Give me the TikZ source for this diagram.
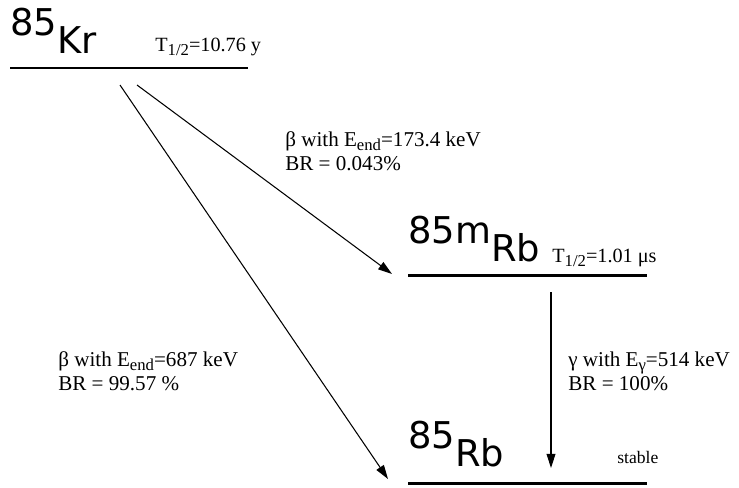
\documentclass[tikz,border=0pt]{standalone}
\usepackage{fontspec}
\setmainfont{Liberation Serif}
\setsansfont{DejaVu Sans}
\usetikzlibrary{arrows.meta}

% lowered subscript, larger than \textsubscript
\newcommand{\lowsub}[1]{\raisebox{-2.5pt}{\fontsize{9.5}{10}\selectfont #1}}

\tikzset{
  level/.style={line width=1.7pt},
  decay/.style={line width=0.6pt,-{Triangle[length=8pt,width=5pt]}},
  nuclide/.style={anchor=base west,inner sep=0pt,font=\sffamily\fontsize{21}{25}\selectfont},
  info/.style={anchor=base west,inner sep=0pt,font=\fontsize{12}{13.5}\selectfont,align=left},
  halflife/.style={anchor=base west,inner sep=0pt,font=\fontsize{11.5}{13}\selectfont}
}

\begin{document}
\begin{tikzpicture}[x=0.02cm,y=-0.02cm]
\useasboundingbox (0,0) rectangle (739,487);

% Energy levels
\coordinate (krL) at (10,68);  \coordinate (krR) at (248,68);
\coordinate (mrbL) at (408,275); \coordinate (mrbR) at (647,275);
\coordinate (rbL) at (408,483); \coordinate (rbR) at (647,483);
\draw[level] (krL) -- (krR);
\draw[level] (mrbL) -- (mrbR);
\draw[level] (rbL) -- (rbR);

% Nuclide names
\node[nuclide] (kr) at (10,53) {\raisebox{10pt}{85}Kr};
\node[nuclide] (mrb) at (408,261) {\raisebox{10pt}{85m}Rb};
\node[nuclide] (rb) at (408,466) {\raisebox{10pt}{85}Rb};

% Half lives
\node[halflife] (krT) at (155,51) {T\lowsub{1/2}=10.76 y};
\node[halflife] (mrbT) at (552,262) {T\lowsub{1/2}=1.01 μs};
\node[halflife,font=\fontsize{10}{12}\selectfont] (rbT) at (617,463) {stable};

% Decay arrows
\coordinate (b1s) at (137,85);  \coordinate (b1e) at (392,274);
\coordinate (b2s) at (120,85);  \coordinate (b2e) at (388,479);
\coordinate (gs) at (551,292);  \coordinate (ge) at (551,468);
\draw[decay] (b1s) -- (b1e);
\draw[decay] (b2s) -- (b2e);
\draw[decay] (gs) -- (ge);

% Branch labels (base = last line)
\node[info] (b1) at (285,170) {β with E\lowsub{end}=173.4 keV\\BR = 0.043\%};
\node[info] (b2) at (58,390) {β with E\lowsub{end}=687 keV\\BR = 99.57 \%};
\node[info] (g) at (568,390) {γ with E\lowsub{γ}=514 keV\\BR = 100\%};

\end{tikzpicture}
\end{document}
